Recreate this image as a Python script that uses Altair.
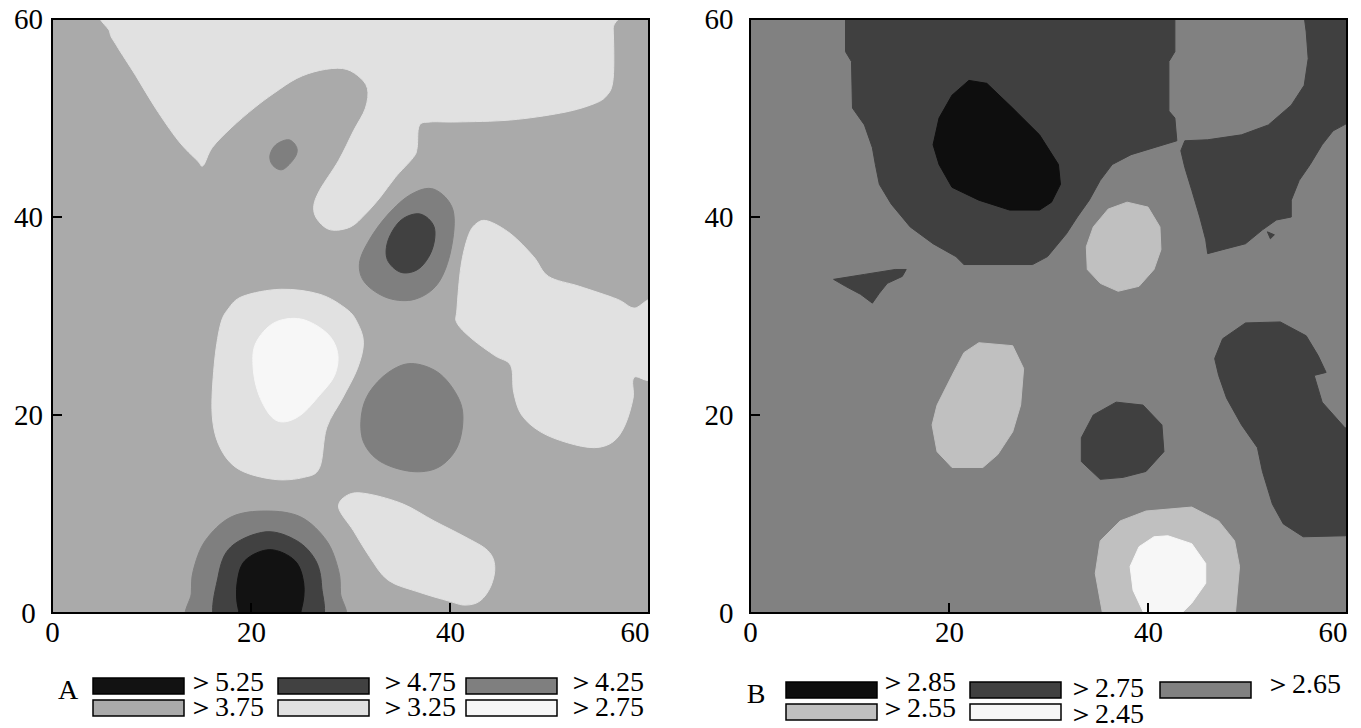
import altair as alt
import pandas as pd

# ---------------- data ----------------
EXTENT = [0, 60]
AXIS_VALUES = [0, 20, 40, 60]
INNER_TICKS = [20, 40]

A_CLASSES = ["＞5.25", "＞4.75", "＞4.25", "＞3.75", "＞3.25", "＞2.75"]
A_BACKGROUND = "＞3.75"
B_CLASSES = ["＞2.85", "＞2.75", "＞2.65", "＞2.55", "＞2.45"]
B_BACKGROUND = "＞2.65"

# Panel A contour regions (x, y) in map units
A_TOP_LIGHT = [(5.8, 61), (20, 61), (40, 61), (56.1, 61), (56.4, 59), (56.4, 54), (55.7, 52.2),
               (54.1, 51.3), (51.1, 50.5), (46.1, 49.8), (40.7, 49.6), (38, 49.6), (36.9, 49.2),
               (36.7, 47), (36.3, 46), (34.5, 44), (33, 42), (31.5, 40.3), (30, 39), (28, 38.7),
               (26.7, 39.7), (26.3, 41), (26.9, 42.7), (28.8, 45.7), (30.3, 48.7), (31.5, 51),
               (31.7, 53), (30.7, 54.3), (29.2, 55), (26.9, 54.8), (24.6, 54), (22.3, 52.5),
               (20.3, 51), (18, 49), (16.1, 47), (15.2, 45.2), (14.6, 45.7), (12.7, 47.7),
               (10.4, 51), (8.4, 54.3), (6.5, 57.3), (5.8, 58.7)]
A_RIGHT_LIGHT = [(43.8, 39.6), (46.1, 38.3), (48.4, 36), (49.9, 34), (53, 33), (56.8, 31.7),
                 (58.5, 30.8), (60.5, 31.3), (60.5, 24), (58.5, 23.8), (58.4, 21.7), (57.6, 19),
                 (56.4, 17.3), (54.5, 16.7), (51.8, 17.2), (49.1, 18.3), (47.2, 20), (46.4, 22.3),
                 (46.1, 25), (44.5, 26), (42.2, 27.7), (40.7, 29.3), (40.7, 30.7), (41.1, 35),
                 (41.8, 38), (42.6, 39.3)]
A_LEFT_LIGHT = [(23, 32.7), (26.9, 32.2), (29.6, 30.7), (30.7, 29.3), (31.3, 27.3), (30.7, 24.7),
                (29.2, 21.7), (27.6, 18.7), (26.9, 14.7), (25.3, 13.7), (22.3, 13.5), (18.8, 14.5),
                (16.9, 16.7), (16.1, 20), (16.3, 25), (16.9, 29), (17.7, 30.7), (19.2, 32)]
A_LOW_LIGHT = [(29.9, 12), (31.9, 12), (35.3, 11), (38.4, 9.3), (41.5, 7.7), (43.8, 6.3),
               (44.5, 4.7), (44.1, 2.7), (43, 1.2), (41.5, 0.8), (39.9, 1.2), (36.9, 2.1),
               (33.8, 3.3), (31.9, 5.7), (30.3, 8.3), (28.8, 10.7)]
A_SMALL_SPOT = [(23.8, 47.8), (24.6, 47), (24.4, 46), (23.2, 44.8), (22.2, 45.2), (21.9, 46.2),
                (22.5, 47.3)]
A_RING = [(38.4, 42.8), (40.3, 40.7), (40.1, 36.7), (38.8, 33.3), (36.5, 31.7), (33.8, 31.8),
          (31.5, 33.3), (30.9, 35.3), (31.9, 37.7), (33.8, 40.3), (36.1, 42.3)]
A_CENTER = [(36.1, 25.2), (38.8, 24.3), (40.7, 22), (41.3, 19.7), (40.7, 16.7), (38.8, 14.7),
            (36.1, 14.3), (33, 15.3), (31.3, 17.3), (31.1, 20), (31.9, 22.3), (33.8, 24.3)]
A_BOTTOM_OUTER = [(13.9, -1), (14, 2), (14.2, 4.3), (15.4, 7.3), (18, 9.7), (21.5, 10.3),
                  (25, 9.7), (27.6, 7.3), (28.8, 4.3), (29, 2), (29.1, -1), (21.5, -1.5)]
A_BOTTOM_MID = [(16.5, -1), (16.7, 3.7), (18, 6.7), (21.5, 8.2), (24.6, 7.3), (26.5, 5.3),
                (27.1, 2.7), (26.9, -1), (21.5, -1.5)]
A_BOTTOM_CORE = [(18.7, 0.5), (18.6, 3), (19.4, 5.3), (21.9, 6.4), (24.4, 5.3), (25.3, 3),
                 (25.1, 0.5), (24.2, -1), (19.6, -1)]
A_WHITE = [(25, 29.7), (27.6, 28.3), (28.7, 26.3), (28.4, 24), (26.9, 22), (25, 20), (23.2, 19.3),
           (21.9, 20), (20.7, 22.3), (20.2, 25), (20.5, 27.3), (22.3, 29.3)]
A_DARK = [(37, 40.3), (38.4, 39), (38.2, 36.7), (36.9, 34.8), (35.1, 34.4), (33.7, 35.7),
          (33.8, 37.7), (35.1, 39.7)]

# Panel B contour regions
B_BIG_DARK = [(9.6, 61), (42.7, 61), (42.7, 56.7), (42.1, 55.7), (42.1, 50.7), (42.7, 50),
              (42.9, 47.7), (40.6, 47), (38.3, 46.3), (36.4, 45.3), (35.2, 43.7), (34.1, 41.7),
              (32.9, 40), (31.8, 38.3), (29.9, 36), (28.4, 35.2), (21.5, 35.2), (20.7, 36),
              (18.4, 37.3), (16.1, 39), (14.2, 41.3), (13, 43.3), (12.6, 45.3), (12.3, 47),
              (11.5, 49.3), (10.3, 51), (10.2, 55.7), (9.6, 56.7)]
B_RIGHT_DARK = [(55.6, 61), (61, 61), (61, 50), (58.6, 48.7), (57.5, 47.3), (56.3, 45.3),
                (55.2, 43.7), (54.4, 41.7), (54.4, 40), (52.9, 39.7), (51.5, 38.7), (49.8, 37.3),
                (47.5, 36.7), (46, 36.3), (45.8, 37.7), (45.2, 40), (44.4, 42.7), (43.7, 45),
                (43.3, 46.7), (43.7, 47.7), (46, 47.8), (49.4, 48.3), (52.1, 49.3), (54.4, 51.3),
                (55.7, 53.3), (56.1, 56), (55.9, 58.7)]
B_SMALL_DARK = [(8.4, 33.7), (11.5, 34.2), (14.6, 34.7), (15.7, 34.7), (15.3, 34), (13.8, 33.3),
                (13, 32.3), (12.3, 31.3), (11.1, 32.2), (9.6, 33)]
B_SPECK = [(52, 38.5), (52.7, 38.2), (52.3, 37.8)]
B_LIGHT_UP = [(37.9, 41.5), (40, 41), (41.2, 39), (41.3, 36.7), (40.6, 34.7), (39.1, 33), (37, 32.5),
              (35.2, 33.3), (33.9, 34.7), (33.8, 37), (34.5, 39), (36, 40.8)]
B_LIGHT_LEFT = [(23, 27.3), (26.4, 27), (27.5, 24.7), (27.2, 21), (26.4, 18.3), (24.9, 16),
                (23.4, 14.7), (20.3, 14.7), (18.8, 16.3), (18.3, 19), (18.8, 21), (20.3, 24),
                (21.5, 26.3)]
B_MID_DARK = [(36.8, 21.3), (39.5, 21), (41.4, 19), (41.6, 16.3), (39.8, 14.3), (37.5, 13.7),
              (35.2, 13.5), (33.3, 15.3), (33.3, 17.7), (34.5, 20)]
B_RIGHT_LONG = [(49.8, 29.3), (53.3, 29.4), (55.9, 28), (57.1, 26), (57.9, 24.3), (56.7, 24),
                (57.5, 21.3), (59.8, 18.7), (61, 18.5), (61, 8), (59.8, 7.8), (55.6, 7.7),
                (53.6, 9), (52.5, 11), (51.5, 14.3), (51, 16.7), (49.4, 19), (47.9, 21.7),
                (47.1, 24), (46.7, 25.7), (47.5, 27.7)]
B_BOTTOM_LIGHT = [(39.8, 10.3), (44.4, 10.7), (47.1, 9.3), (48.7, 7.3), (49.2, 4.7), (48.7, -1),
                  (35.6, -1), (34.7, 4), (35.2, 7.3), (37.2, 9.3)]
B_BOTTOM_WHITE = [(42, 7.8), (44.4, 7), (45.8, 5), (45.8, 3), (44.4, 1), (42.9, -0.5),
                  (39.8, -0.5), (38.5, 2.3), (38.2, 4.7), (39.1, 6.7), (40.6, 7.7)]
B_BLACK = [(22, 53.8), (23.8, 53.5), (26.4, 51), (29.1, 48.3), (31, 45.3), (31.2, 43.3),
           (30.3, 41.5), (29.1, 40.7), (26.1, 40.7), (23, 41.7), (20.3, 43), (19, 45.3),
           (18.4, 47.3), (19, 50), (20.3, 52.3)]

# (name, class, drawing level, vertices)
A_REGIONS = [
    ("a_top", "＞3.25", 1, A_TOP_LIGHT), ("a_right", "＞3.25", 1, A_RIGHT_LIGHT),
    ("a_left", "＞3.25", 1, A_LEFT_LIGHT), ("a_low", "＞3.25", 1, A_LOW_LIGHT),
    ("a_spot", "＞4.25", 1, A_SMALL_SPOT), ("a_ring", "＞4.25", 1, A_RING),
    ("a_center", "＞4.25", 1, A_CENTER), ("a_b1", "＞4.25", 1, A_BOTTOM_OUTER),
    ("a_white", "＞2.75", 2, A_WHITE), ("a_dark", "＞4.75", 2, A_DARK),
    ("a_b2", "＞4.75", 2, A_BOTTOM_MID), ("a_b3", "＞5.25", 3, A_BOTTOM_CORE),
]
B_REGIONS = [
    ("b_big", "＞2.75", 1, B_BIG_DARK), ("b_right", "＞2.75", 1, B_RIGHT_DARK),
    ("b_small", "＞2.75", 1, B_SMALL_DARK), ("b_speck", "＞2.75", 1, B_SPECK),
    ("b_lu", "＞2.55", 1, B_LIGHT_UP), ("b_ll", "＞2.55", 1, B_LIGHT_LEFT),
    ("b_mid", "＞2.75", 1, B_MID_DARK), ("b_long", "＞2.75", 1, B_RIGHT_LONG),
    ("b_bl", "＞2.55", 1, B_BOTTOM_LIGHT), ("b_bw", "＞2.45", 2, B_BOTTOM_WHITE),
    ("b_black", "＞2.85", 2, B_BLACK),
]

# ---------------- styles / layout ----------------
A_COLORS = ["#121212", "#414141", "#7f7f7f", "#aaaaaa", "#e1e1e1", "#f7f7f7"]
B_COLORS = ["#0e0e0e", "#404040", "#818181", "#c0c0c0", "#f7f7f7"]
FONT = "Liberation Serif"
LABEL_SIZE = 29
LEGEND_SIZE = 28
MAP_W = 597
MAP_H = 594
LEG_H = 56
SWATCH_W = 91
SWATCH_H = 16
LEG_A = dict(letter="A", letter_x=16, letter_y=22, swatch_x=[41, 226, 414],
             text_x=[135, 327, 515], row_y=[17, 39], text_dy=[-3, -3, -3, 0, 0, 0])
LEG_B = dict(letter="B", letter_x=6, letter_y=22, swatch_x=[36, 220, 410],
             text_x=[129, 317, 514], row_y=[17, 39], text_dy=[-7, -1, -5, -3, 3])


def regions_df(regions):
    rows = []
    for name, cls, level, pts in regions:
        for i, (x, y) in enumerate(pts):
            rows.append(dict(poly=name, cls=cls, level=level, i=i, x=x, y=y))
    return pd.DataFrame(rows)


def map_panel(regions, classes, colors, background, interp, y_align, y_pad):
    xs = alt.Scale(domain=EXTENT, nice=False, zero=False)
    ys = alt.Scale(domain=EXTENT, nice=False, zero=False)
    fill_scale = alt.Scale(domain=classes, range=colors)
    x_axis = alt.Axis(values=AXIS_VALUES, ticks=False, tickSize=0, domain=False, grid=False,
                      labelFont=FONT, labelFontSize=LABEL_SIZE, labelColor="black",
                      labelPadding=5, labelAngle=0,
                      labelAlign={"condition": {"test": "datum.value == 60", "value": "right"},
                                  "value": "center"})
    y_axis = alt.Axis(values=AXIS_VALUES, ticks=False, tickSize=0, domain=False, grid=False,
                      labelFont=FONT, labelFontSize=LABEL_SIZE, labelColor="black",
                      labelPadding=y_pad, labelAlign=y_align)
    X = lambda f: alt.X(f, scale=xs, axis=x_axis, title=None)
    Y = lambda f: alt.Y(f, scale=ys, axis=y_axis, title=None)

    frame_df = pd.DataFrame({"x0": [EXTENT[0]], "x1": [EXTENT[1]], "y0": [EXTENT[0]],
                             "y1": [EXTENT[1]], "cls": [background]})
    bg = alt.Chart(frame_df).mark_rect().encode(
        x=X("x0:Q"), x2="x1", y=Y("y0:Q"), y2="y1",
        fill=alt.Fill("cls:N", scale=fill_scale, legend=None))
    layers = [bg]
    df = regions_df(regions)
    for lvl in sorted(df["level"].unique()):
        sub = df[df["level"] == lvl]
        layers.append(
            alt.Chart(sub).mark_line(interpolate=interp, clip=True, strokeWidth=1).encode(
                x=X("x:Q"), y=Y("y:Q"), order="i:Q", detail="poly:N",
                fill=alt.Fill("cls:N", scale=fill_scale, legend=None),
                stroke=alt.Stroke("cls:N", scale=fill_scale, legend=None)))
    tick_df = pd.DataFrame({"t": INNER_TICKS})
    ytick = alt.Chart(tick_df).mark_rule(color="black", strokeWidth=2).encode(
        y=Y("t:Q"), x=alt.value(0), x2=alt.value(10))
    xtick = alt.Chart(tick_df).mark_rule(color="black", strokeWidth=2).encode(
        x=X("t:Q"), y=alt.value(MAP_H), y2=alt.value(MAP_H - 10))
    frame = alt.Chart(frame_df).mark_rect(filled=False, stroke="black", strokeWidth=2).encode(
        x=X("x0:Q"), x2="x1", y=Y("y0:Q"), y2="y1")
    return alt.layer(*layers, ytick, xtick, frame).properties(width=MAP_W, height=MAP_H)


def legend_panel(classes, colors, lay):
    n = len(classes)
    cols = [i % 3 for i in range(n)]
    rows = [i // 3 for i in range(n)]
    df = pd.DataFrame({
        "cls": classes,
        "sx0": [lay["swatch_x"][c] for c in cols],
        "sx1": [lay["swatch_x"][c] + SWATCH_W for c in cols],
        "sy0": [lay["row_y"][r] - SWATCH_H / 2 for r in rows],
        "sy1": [lay["row_y"][r] + SWATCH_H / 2 for r in rows],
        "tx": [lay["text_x"][c] for c in cols],
        "ty": [lay["row_y"][r] + lay["text_dy"][i] for i, r in enumerate(rows)],
    })
    xs = alt.Scale(domain=[0, MAP_W], range=[0, MAP_W], nice=False, zero=False)
    ys = alt.Scale(domain=[0, LEG_H], range=[0, LEG_H], nice=False, zero=False)
    fill_scale = alt.Scale(domain=classes, range=colors)
    sw = alt.Chart(df).mark_rect(stroke="black", strokeWidth=1.5).encode(
        x=alt.X("sx0:Q", scale=xs, axis=None), x2="sx1",
        y=alt.Y("sy0:Q", scale=ys, axis=None), y2="sy1",
        fill=alt.Fill("cls:N", scale=fill_scale, legend=None))
    tx = alt.Chart(df).mark_text(align="left", baseline="middle", font=FONT,
                                 fontSize=LEGEND_SIZE, color="black").encode(
        x=alt.X("tx:Q", scale=xs, axis=None), y=alt.Y("ty:Q", scale=ys, axis=None),
        text="cls:N")
    letter_df = pd.DataFrame({"t": [lay["letter"]], "x": [lay["letter_x"]], "y": [lay["letter_y"]]})
    lt = alt.Chart(letter_df).mark_text(align="center", baseline="middle", font=FONT,
                                        fontSize=LEGEND_SIZE, color="black").encode(
        x=alt.X("x:Q", scale=xs, axis=None), y=alt.Y("y:Q", scale=ys, axis=None), text="t:N")
    return alt.layer(sw, tx, lt).properties(width=MAP_W, height=LEG_H)


map_a = map_panel(A_REGIONS, A_CLASSES, A_COLORS, A_BACKGROUND, "cardinal-closed", "center", 24)
map_b = map_panel(B_REGIONS, B_CLASSES, B_COLORS, B_BACKGROUND, "linear-closed", "right", 17)
leg_a = legend_panel(A_CLASSES, A_COLORS, LEG_A)
leg_b = legend_panel(B_CLASSES, B_COLORS, LEG_B)

chart = alt.hconcat(
    alt.vconcat(map_a, leg_a, spacing=22),
    alt.vconcat(map_b, leg_b, spacing=22),
    spacing=54,
).resolve_scale(fill="independent", stroke="independent").properties(
    padding={"left": 5, "top": -3, "right": 0, "bottom": 0}
).configure_view(strokeWidth=0)

chart.save("out.html", embed_options={"renderer": "svg", "actions": False})
